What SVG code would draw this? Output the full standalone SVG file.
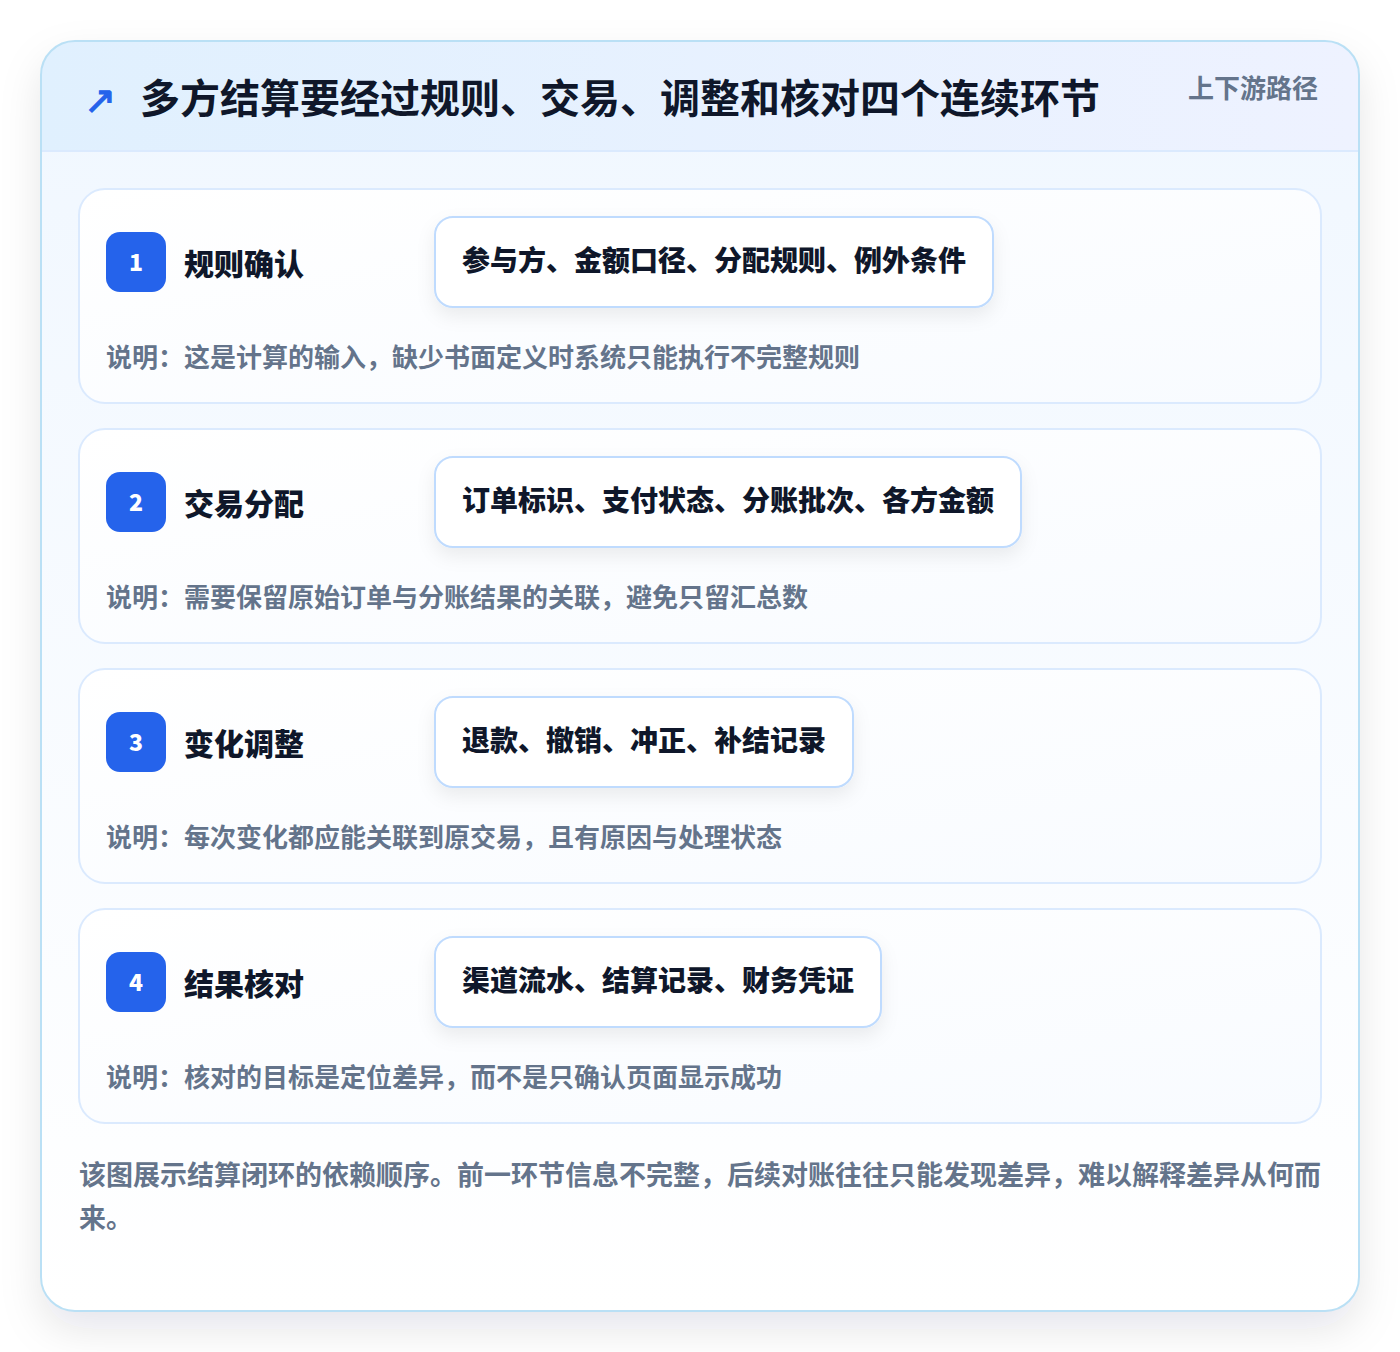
<svg xmlns="http://www.w3.org/2000/svg" width="1400" height="1352" viewBox="0 0 1400 1352">
  <defs>
    <linearGradient id="hdr" x1="0" y1="0" x2="1" y2="0">
      <stop offset="0" stop-color="#e0f0fe"/>
      <stop offset="1" stop-color="#eef2ff"/>
    </linearGradient>
    <linearGradient id="body" x1="0" y1="0" x2="0" y2="1">
      <stop offset="0" stop-color="#f0f7ff"/>
      <stop offset="1" stop-color="#ffffff"/>
    </linearGradient>
    <linearGradient id="cardg" x1="0" y1="0" x2="1" y2="1">
      <stop offset="0" stop-color="#ffffff"/>
      <stop offset="1" stop-color="#f8fbff"/>
    </linearGradient>
    <clipPath id="outerClip">
      <rect x="41" y="41" width="1318" height="1270" rx="34"/>
    </clipPath>
    <filter id="outerShadow" x="-10%" y="-10%" width="120%" height="125%">
      <feDropShadow dx="0" dy="18" stdDeviation="20" flood-color="#0f172a" flood-opacity="0.10"/>
    </filter>
    <filter id="chipShadow" x="-10%" y="-30%" width="120%" height="170%">
      <feDropShadow dx="0" dy="8" stdDeviation="9" flood-color="#0f172a" flood-opacity="0.07"/>
    </filter>
    <style>
      .t { font-family: "Noto Sans CJK SC", "Noto Sans", sans-serif; font-weight: 700; }
      .card { fill: url(#cardg); stroke: #dbeafe; stroke-width: 2; }
      .badge { fill: #2563eb; }
      .num { fill: #ffffff; font-size: 23px; text-anchor: middle; font-weight: 900; }
      .stitle { fill: #0f172a; font-size: 30px; font-weight: 800; }
      .chip { fill: #ffffff; stroke: #bfdbfe; stroke-width: 2; filter: url(#chipShadow); }
      .chiptxt { fill: #0f172a; font-size: 28px; font-weight: 800; }
      .desc { fill: #64748b; font-size: 26px; }
    </style>
  </defs>
  <rect x="0" y="0" width="1400" height="1352" fill="#ffffff"/>
  <g id="frame">
    <rect x="41" y="41" width="1318" height="1270" rx="34" fill="#ffffff" filter="url(#outerShadow)"/>
    <g clip-path="url(#outerClip)">
      <rect x="41" y="41" width="1318" height="1270" fill="url(#body)"/>
      <rect x="41" y="41" width="1318" height="110" fill="url(#hdr)"/>
      <line x1="41" y1="151" x2="1359" y2="151" stroke="#dbeafe" stroke-width="2"/>
    </g>
    <rect x="41" y="41" width="1318" height="1270" rx="34" fill="none" stroke="#bae0f5" stroke-width="2"/>
  </g>
  <g id="header">
    <text x="84" y="113" font-family="DejaVu Sans, sans-serif" font-size="38" fill="#2563eb" stroke="#2563eb" stroke-width="1.2">↗</text>
    <text class="t" x="140" y="113" font-size="40" font-weight="800" fill="#0f172a">多方结算要经过规则、交易、调整和核对四个连续环节</text>
    <text class="t" x="1318" y="98" font-size="26" fill="#64748b" text-anchor="end">上下游路径</text>
  </g>
  <g id="connectors"></g>
  <g id="step1">
    <rect class="card" x="79" y="189" width="1242" height="214" rx="26"/>
    <rect class="badge" x="106" y="232" width="60" height="60" rx="14"/>
    <text class="t num" x="136" y="271">1</text>
    <text class="t stitle" x="184" y="275">规则确认</text>
    <rect class="chip" x="435" y="217" width="558" height="90" rx="18"/>
    <text class="t chiptxt" x="462" y="271">参与方、金额口径、分配规则、例外条件</text>
    <text class="t desc" x="106" y="367">说明：这是计算的输入，缺少书面定义时系统只能执行不完整规则</text>
  </g>
  <g id="step2">
    <rect class="card" x="79" y="429" width="1242" height="214" rx="26"/>
    <rect class="badge" x="106" y="472" width="60" height="60" rx="14"/>
    <text class="t num" x="136" y="511">2</text>
    <text class="t stitle" x="184" y="515">交易分配</text>
    <rect class="chip" x="435" y="457" width="586" height="90" rx="18"/>
    <text class="t chiptxt" x="462" y="511">订单标识、支付状态、分账批次、各方金额</text>
    <text class="t desc" x="106" y="607">说明：需要保留原始订单与分账结果的关联，避免只留汇总数</text>
  </g>
  <g id="step3">
    <rect class="card" x="79" y="669" width="1242" height="214" rx="26"/>
    <rect class="badge" x="106" y="712" width="60" height="60" rx="14"/>
    <text class="t num" x="136" y="751">3</text>
    <text class="t stitle" x="184" y="755">变化调整</text>
    <rect class="chip" x="435" y="697" width="418" height="90" rx="18"/>
    <text class="t chiptxt" x="462" y="751">退款、撤销、冲正、补结记录</text>
    <text class="t desc" x="106" y="847">说明：每次变化都应能关联到原交易，且有原因与处理状态</text>
  </g>
  <g id="step4">
    <rect class="card" x="79" y="909" width="1242" height="214" rx="26"/>
    <rect class="badge" x="106" y="952" width="60" height="60" rx="14"/>
    <text class="t num" x="136" y="991">4</text>
    <text class="t stitle" x="184" y="995">结果核对</text>
    <rect class="chip" x="435" y="937" width="446" height="90" rx="18"/>
    <text class="t chiptxt" x="462" y="991">渠道流水、结算记录、财务凭证</text>
    <text class="t desc" x="106" y="1087">说明：核对的目标是定位差异，而不是只确认页面显示成功</text>
  </g>
  <g id="footer">
    <text class="t" x="79" y="1185" font-size="27" fill="#64748b">该图展示结算闭环的依赖顺序。前一环节信息不完整，后续对账往往只能发现差异，难以解释差异从何而</text>
    <text class="t" x="79" y="1228" font-size="27" fill="#64748b">来。</text>
  </g>
</svg>
